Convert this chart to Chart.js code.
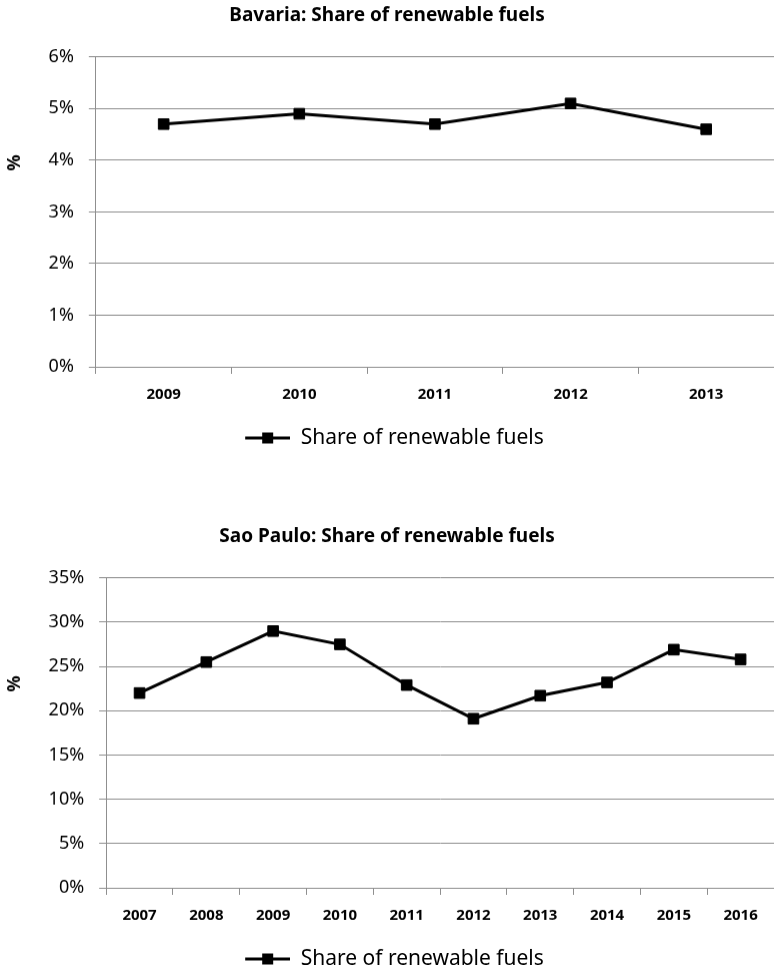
<!DOCTYPE html>
<html>
<head>
<meta charset="utf-8">
<script src="https://cdn.jsdelivr.net/npm/chart.js@4"></script>
<style>
  body { margin: 0; background: #fff; width: 774px; height: 974px; position: relative; overflow: hidden; }
  .box { position: absolute; left: 0; width: 774px; height: 457.5px; }
  #box1 { top: 0; }
  #box2 { top: 521px; }
</style>
</head>
<body>
<div class="box" id="box1"><canvas id="chart1"></canvas></div>
<div class="box" id="box2"><canvas id="chart2"></canvas></div>
<script>
// Bavaria
const bavariaYears = ['2009', '2010', '2011', '2012', '2013'];
const bavariaShare = [4.7, 4.9, 4.7, 5.1, 4.6];
const bavariaTicks = { max: 6, step: 1 };

// Sao Paulo
const saoPauloYears = ['2007', '2008', '2009', '2010', '2011', '2012', '2013', '2014', '2015', '2016'];
const saoPauloShare = [22.0, 25.5, 29.0, 27.5, 22.9, 19.1, 21.7, 23.2, 26.9, 25.8];
const saoPauloTicks = { max: 35, step: 5 };

const seriesName = 'Share of renewable fuels';
const font = '"Noto Sans", "Open Sans", sans-serif';
const gridGray = '#8f8f8f';
// leading spaces push the rotated "%" up, it sits above the middle in the original
const yTitle = ' '.repeat(21) + '%';

// little line-with-square picture for the legend (left part left empty for spacing)
const legendIcon = document.createElement('canvas');
legendIcon.width = 60;
legendIcon.height = 14;
(function() {
    const c = legendIcon.getContext('2d');
    c.fillStyle = '#000';
    c.fillRect(15, 5.5, 45, 3);
    c.fillRect(32, 1.5, 11, 11);
})();

function makeChart(id, title, years, values, ticks) {
    const ctx = document.getElementById(id).getContext('2d');
    return new Chart(ctx, {
        type: 'line',
        data: {
            labels: years,
            datasets: [{
                label: seriesName,
                data: values,
                borderColor: '#000',
                backgroundColor: '#000',
                borderWidth: 3,
                pointStyle: 'rect',
                pointRadius: 7.5,
                pointHoverRadius: 7.5,
                pointBorderWidth: 1,
                tension: 0
            }]
        },
        options: {
            responsive: true,
            maintainAspectRatio: false,
            animation: false,
            layout: { autoPadding: false, padding: { left: 0, right: 0, top: 4, bottom: 0 } },
            plugins: {
                title: {
                    display: true,
                    text: title,
                    color: '#000',
                    font: { family: font, size: 19, weight: 'bold' },
                    padding: { top: 0, bottom: 30 }
                },
                legend: {
                    position: 'bottom',
                    labels: {
                        color: '#000',
                        font: { family: font, size: 21 },
                        usePointStyle: true,
                        pointStyleWidth: 60,
                        padding: 11.5,
                        generateLabels: function(chart) {
                            const items = Chart.defaults.plugins.legend.labels.generateLabels(chart);
                            items.forEach(function(it) { it.pointStyle = legendIcon; });
                            return items;
                        }
                    }
                },
                tooltip: { enabled: false }
            },
            scales: {
                x: {
                    offset: true,
                    grid: {
                        offset: true,
                        drawOnChartArea: false,
                        color: gridGray,
                        tickLength: 7
                    },
                    border: { color: gridGray },
                    ticks: {
                        color: '#000',
                        font: { family: font, size: 15, weight: 'bold' },
                        padding: 12,
                        maxRotation: 0
                    }
                },
                y: {
                    min: 0,
                    max: ticks.max,
                    grid: { color: gridGray, tickLength: 7 },
                    border: { color: gridGray },
                    ticks: {
                        stepSize: ticks.step,
                        color: '#000',
                        font: { family: font, size: 18 },
                        padding: 15,
                        callback: function(v) { return v + '%'; }
                    },
                    title: {
                        display: true,
                        text: yTitle,
                        color: '#000',
                        font: { family: font, size: 18, weight: 'bold' },
                        padding: { top: 4, bottom: 8 }
                    }
                }
            }
        }
    });
}

makeChart('chart1', 'Bavaria: Share of renewable fuels', bavariaYears, bavariaShare, bavariaTicks);
makeChart('chart2', 'Sao Paulo: Share of renewable fuels', saoPauloYears, saoPauloShare, saoPauloTicks);
</script>
</body>
</html>
